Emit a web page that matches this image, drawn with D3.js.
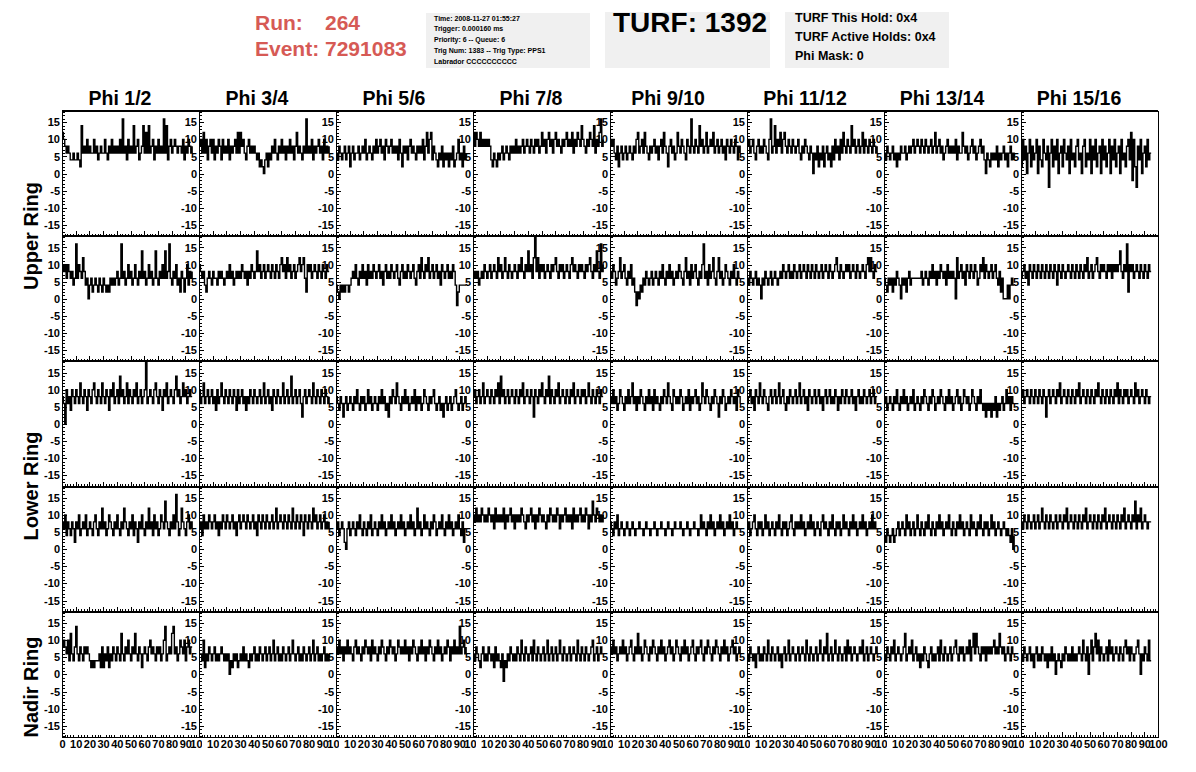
<!DOCTYPE html>
<html>
<head>
<meta charset="utf-8">
<script src="https://cdn.jsdelivr.net/npm/d3@7"></script>
<style>
  body { margin: 0; background: #fff; }
  svg { display: block; font-family: "Liberation Sans", Arial, Helvetica, sans-serif; font-weight: bold; }
  .tick line, .frame { shape-rendering: crispEdges; }
</style>
</head>
<body>
<div id="plot"></div>
<script>
// column / row labels and ticks
const phiLabels = ["Phi 1/2", "Phi 3/4", "Phi 5/6", "Phi 7/8", "Phi 9/10", "Phi 11/12", "Phi 13/14", "Phi 15/16"];
const ringLabels = ["Upper Ring", "Lower Ring", "Nadir Ring"];
const yTicks = [-15, -10, -5, 0, 5, 10, 15];
const xTicks = [0, 10, 20, 30, 40, 50, 60, 70, 80, 90, 100];
const runInfo = ["Time: 2008-11-27 01:55:27", "Trigger: 0.000160 ms", "Priority: 6 -- Queue: 6", "Trig Num: 1383 -- Trig Type: PPS1", "Labrador CCCCCCCCCC"];
const turfInfo = ["TURF This Hold: 0x4", "TURF Active Holds: 0x4", "Phi Mask: 0"];

// waveforms, one sample per ns (estimated)
const upperRingA = [
  [12,10,8,6,8,6,4,4,6,4, 4,6,4,2,14,6,8,6,10,6, 8,6,6,10,6,8,4,6,8,6, 6,10,6,4,8,6,10,6,8,6, 8,6,10,6,16,6,8,4,10,6, 8,6,14,6,8,10,4,6,8,14, 6,12,6,14,6,8,10,4,8,6, 10,6,8,6,16,6,14,4,8,10, 6,8,10,8,6,8,8,6,10,4, 8,6,10,8,6,8],
  [8,10,6,12,6,10,4,8,10,6, 10,4,8,6,10,8,4,10,6,8, 6,10,4,8,6,8,10,6,12,6, 12,8,10,6,4,8,10,6,8,6, 8,6,4,6,2,4,2,0,4,6, 2,6,4,8,6,10,6,4,8,6, 10,6,8,4,8,6,10,6,8,4, 8,12,6,8,6,4,8,6,16,6, 8,6,10,4,8,6,8,10,6,8, 4,10,6,8,6,8],
  [6,4,8,6,4,6,8,4,6,8, 2,6,8,4,6,6,8,4,6,8, 6,10,4,6,8,6,4,8,6,10, 6,8,10,6,8,4,10,8,6,8, 10,6,8,6,8,4,10,6,2,8, 6,8,4,8,10,6,8,6,4,8, 6,8,6,10,4,8,12,6,10,12, 4,8,6,4,2,6,4,8,2,6, 4,6,2,6,4,8,2,4,6,10, 4,6,2,8,4,6],
  [12,8,12,10,8,12,8,10,8,10, 8,10,8,4,2,6,4,2,6,4, 6,8,4,6,8,6,4,8,6,8, 6,10,6,8,6,8,10,6,8,10, 8,6,10,8,6,10,8,10,6,8, 12,8,10,6,10,12,8,10,6,10, 12,8,10,8,6,10,8,10,12,8, 10,8,12,6,10,8,12,10,8,14, 10,8,6,10,8,12,10,8,14,6, 10,8,12,16,8,10],
  [10,8,10,6,4,8,2,6,8,4, 6,8,4,6,8,6,4,8,6,10, 12,6,8,10,6,12,8,6,4,8, 6,8,10,6,8,4,8,10,6,12, 8,6,2,8,10,6,8,4,6,12, 8,6,10,8,6,4,10,8,6,16, 8,6,10,8,6,14,8,10,6,8, 12,6,8,10,8,12,6,8,10,6, 8,10,6,8,4,10,8,6,10,8, 6,10,8,4,8,6],
  [8,10,6,8,10,6,4,8,10,6, 8,6,10,8,6,4,10,16,6,8, 14,6,10,8,12,6,10,12,8,6, 10,8,6,10,8,6,8,10,6,4, 8,6,10,8,6,4,8,6,0,6, 4,8,2,6,4,8,2,6,8,4, 6,2,8,4,10,6,8,4,10,6, 12,8,6,10,8,6,14,8,10,6, 8,10,6,8,12,6,10,8,6,10, 8,6,10,8,6,8],
  [6,4,8,6,4,6,8,4,6,2, 6,4,8,6,6,8,4,6,8,6, 8,10,6,8,10,8,6,10,8,6, 10,8,6,8,10,6,8,12,6,8, 10,6,8,4,6,8,10,6,8,6, 8,6,10,4,8,6,6,12,8,6, 8,4,6,8,10,6,8,4,6,8, 10,6,8,4,0,6,4,2,6,4, 6,4,8,2,6,4,6,8,4,6, 2,6,8,4,6,4],
  [2,10,4,8,0,6,10,2,8,4, 6,10,0,8,4,2,10,6,4,8, -4,6,10,2,8,4,10,0,6,8, 2,10,6,4,8,0,10,4,6,2, 8,10,4,6,0,8,10,2,6,4, 10,0,8,4,10,2,6,8,0,10, 4,8,2,6,10,0,8,4,10,2, 6,8,0,10,4,6,2,8,10,4, 12,-2,10,2,-4,8,4,10,0,6, 8,2,10,4,6,6]
];
const upperRingB = [
  [10,8,10,6,10,8,6,8,4,6, 16,6,10,8,6,12,8,4,6,0, 4,6,2,4,6,4,2,6,4,2, 6,4,2,4,2,6,4,6,4,6, 8,4,6,16,6,8,4,6,10,6, 8,4,6,10,6,4,8,6,14,6, 8,4,6,10,6,8,4,6,14,6, 4,8,6,10,6,14,6,8,16,6, 4,8,6,10,4,6,2,8,6,2, 6,10,4,8,6,8],
  [10,8,6,8,4,2,6,8,6,4, 8,6,6,4,8,6,8,6,4,6, 8,6,10,6,8,4,6,8,6,8, 6,10,8,6,8,4,8,6,10,8, 6,8,14,8,10,6,8,10,6,8, 10,8,6,10,8,6,10,8,6,10, 12,8,10,6,12,8,10,6,8,10, 6,8,10,12,8,10,12,6,2,10, 8,10,6,8,10,8,6,10,8,6, 10,8,6,10,8,8],
  [4,2,0,4,2,4,2,4,4,2, 4,6,8,6,10,6,4,8,6,10, 6,8,4,10,6,8,6,10,8,6, 8,10,6,8,4,8,10,6,8,6, 10,8,6,8,10,6,4,8,10,6, 8,6,10,8,6,8,10,6,4,8, 10,6,12,8,6,10,8,12,6,8, 10,6,8,10,6,8,4,10,8,6, 8,10,6,8,6,10,8,4,-2,2, 4,4,4,4,4,4],
  [6,8,6,8,4,6,8,6,10,8, 6,8,10,6,8,10,8,6,12,8, 10,6,8,12,8,6,10,8,6,8, 10,8,6,10,8,12,8,6,10,8, 14,8,10,6,12,18,8,12,6,10, 8,10,6,8,10,8,6,10,8,10, 12,8,6,10,8,10,6,8,10,8, 6,10,12,8,10,8,6,10,8,10, 8,6,10,8,10,12,8,6,10,8, 14,8,6,16,8,10],
  [8,6,10,8,4,6,8,12,6,8, 10,6,4,8,6,10,4,6,2,-2, 2,0,4,2,6,4,8,6,4,6, 8,4,6,8,6,4,8,6,10,6, 4,8,6,10,6,8,4,6,8,6, 10,8,6,4,8,12,6,8,4,10, 6,8,10,6,4,8,6,10,16,6, 8,4,10,6,8,12,6,4,8,12, 6,8,4,6,10,8,6,4,8,6, 10,6,4,8,6,6],
  [6,4,8,6,4,6,8,4,6,4, 0,6,4,8,6,4,6,8,4,6, 8,6,4,6,8,6,10,8,6,8, 10,6,8,6,10,8,6,8,10,6, 8,10,8,6,10,8,6,10,8,6, 10,8,6,8,10,6,8,10,8,6, 10,8,6,8,10,12,8,6,10,8, 6,8,10,8,10,6,8,10,8,6, 10,8,6,8,10,8,6,10,12,8, 12,8,6,10,8,8],
  [6,4,2,6,4,6,2,6,4,8, 6,4,0,6,4,6,2,6,8,4, 6,6,6,6,6,6,6,8,4,6, 8,6,4,8,6,10,6,8,4,8, 6,10,8,6,8,4,10,6,8,6, 8,6,0,12,6,8,10,6,8,4, 10,8,6,10,8,6,10,8,4,6, 10,8,12,6,10,8,6,8,10,6, 8,10,6,4,8,2,6,0,0,0, 4,0,4,6,4,4],
  [6,8,10,6,8,4,10,8,6,10, 8,6,10,8,6,10,8,6,10,8, 6,10,8,6,10,8,4,10,8,6, 10,8,6,8,10,8,6,10,8,6, 10,8,6,10,8,6,10,8,12,6, 8,10,6,8,10,12,8,6,10,8, 10,8,6,10,8,10,6,10,8,10, 8,10,14,8,6,10,8,16,2,10, 8,10,6,8,10,8,6,10,8,6, 10,8,6,10,8,8]
];
const lowerRingA = [
  [8,6,0,10,6,8,4,10,8,6, 10,8,6,12,8,6,10,8,4,10, 8,6,10,12,8,6,10,8,6,12, 8,6,10,8,4,10,8,12,6,8, 10,6,14,8,10,6,8,12,6,10, 8,6,10,8,12,6,8,10,6,8, 10,18,6,8,10,8,6,10,12,8, 6,10,8,4,10,8,12,6,8,10, 8,6,10,14,8,10,6,8,12,8, 10,6,8,10,8,8],
  [10,6,8,12,6,8,10,6,8,10, 6,8,4,10,6,8,12,8,6,10, 8,6,10,8,6,10,8,4,10,6, 8,10,6,8,4,8,6,10,8,6, 10,8,6,8,10,6,8,12,6,8, 10,6,8,4,10,8,6,10,8,6, 8,12,6,8,10,6,8,14,6,8, 10,6,8,10,6,2,8,10,6,8, 10,8,6,12,8,6,10,8,6,10, 8,6,10,8,6,8],
  [8,6,4,8,6,2,6,8,4,6, 8,6,4,8,6,10,6,4,8,6, 8,4,6,10,6,8,4,6,8,6, 4,8,6,10,6,8,4,6,2,8, 6,10,8,6,12,8,6,4,8,6, 10,6,8,4,6,8,6,10,4,8, 6,8,4,6,10,8,6,4,8,6, 8,10,6,4,6,8,4,6,2,6, 8,4,6,8,4,6,8,10,6,4, 6,8,4,6,8,6],
  [8,10,6,8,10,6,8,12,6,8, 10,8,6,10,8,6,10,8,12,6, 14,8,10,6,8,10,6,8,10,8, 6,10,8,6,10,8,12,6,8,10, 8,6,10,8,2,10,8,6,10,8, 12,8,6,10,8,14,6,10,8,6, 10,8,12,6,8,10,8,6,10,8, 6,10,8,12,6,8,10,8,6,10, 8,10,6,8,12,8,6,10,8,6, 10,8,6,10,8,8],
  [8,6,10,6,8,4,6,10,8,6, 4,8,6,10,6,8,12,6,8,4, 8,6,10,8,6,4,8,6,10,6, 8,4,10,6,8,6,4,8,6,10, 8,6,12,8,6,4,10,8,6,8, 6,10,8,4,6,8,6,10,4,8, 6,8,10,6,8,4,6,12,8,6, 10,8,6,4,8,6,10,8,6,2, 8,6,10,8,4,6,8,6,10,8, 6,8,4,10,8,6],
  [6,8,10,6,8,4,10,8,6,12, 8,6,10,8,6,4,8,10,6,8, 10,6,8,12,6,8,10,6,4,8, 6,10,8,6,8,10,6,8,12,6, 8,10,6,8,4,10,8,6,8,10, 6,8,10,6,8,4,8,10,6,8, 10,6,8,6,10,8,4,8,6,10, 8,6,10,8,6,8,10,6,8,4, 8,10,6,8,6,10,8,6,8,10, 6,8,10,6,8,8],
  [6,8,4,6,8,6,4,8,6,10, 6,4,8,6,10,6,8,4,6,8, 6,10,4,6,8,6,4,8,6,10, 8,6,4,8,6,10,8,4,6,8, 6,10,8,6,4,8,6,10,6,8, 4,6,8,10,6,8,4,6,10,8, 6,8,4,6,10,8,6,4,8,6, 10,6,4,6,2,6,4,6,2,6, 4,8,2,6,4,6,8,4,6,10, 6,8,4,8,6,6],
  [8,10,6,8,10,8,6,10,8,6, 10,8,6,10,8,6,10,8,2,8, 10,6,8,10,8,6,10,8,12,6, 8,10,8,6,10,8,6,10,8,6, 10,8,12,6,8,10,8,6,10,8, 6,10,8,6,10,8,12,8,6,10, 8,6,10,8,6,10,8,6,10,8, 12,6,10,8,6,10,8,10,6,8, 10,8,6,12,8,10,6,8,10,8, 6,10,8,6,8,8]
];
const lowerRingB = [
  [8,6,10,4,8,6,4,8,6,2, 8,6,10,4,6,8,6,10,4,6, 8,6,4,8,10,6,4,8,6,12, 6,8,4,6,10,8,6,4,8,6, 10,6,4,8,6,12,8,6,4,8, 6,10,4,8,6,2,8,6,10,6, 4,8,6,12,6,8,4,10,6,8, 4,6,10,8,6,14,8,6,4,8, 6,10,6,16,8,4,6,12,8,6, 4,8,10,6,8,6],
  [6,8,4,10,6,8,6,10,8,6, 8,10,6,8,4,8,6,10,8,6, 10,8,6,8,10,6,8,4,8,10, 6,8,10,8,6,10,8,6,8,10, 6,8,4,10,8,6,10,8,6,10, 8,6,8,10,6,8,12,6,8,10, 8,6,10,8,6,10,8,6,12,8, 6,10,8,6,10,8,4,10,8,6, 10,8,6,12,8,10,6,8,10,6, 8,10,6,8,6,8],
  [6,8,4,6,8,6,2,0,6,8, 4,6,8,6,4,8,6,10,6,4, 8,6,4,8,6,10,4,6,8,6, 4,8,6,10,6,8,4,6,8,6, 10,6,8,4,6,8,6,10,6,8, 4,6,8,6,10,6,8,4,6,12, 6,8,4,6,10,6,8,6,4,8, 6,10,8,4,6,8,6,10,6,4, 8,6,10,6,8,4,6,8,6,10, 6,4,8,2,6,6],
  [10,8,12,8,10,8,12,10,8,10, 8,12,10,8,10,6,12,8,10,8, 10,8,12,6,10,8,10,12,8,10, 6,10,8,10,8,12,10,8,6,10, 8,10,12,8,10,6,10,8,12,10, 8,10,8,6,10,8,12,10,8,10, 8,12,10,6,10,8,10,12,8,10, 8,10,6,12,8,10,8,10,12,8, 10,8,12,10,6,10,8,14,10,8, 12,10,8,10,8,10],
  [8,6,4,8,6,10,4,6,8,6, 4,6,8,6,4,6,8,6,4,6, 6,8,6,6,4,6,8,6,6,4, 6,6,8,6,4,6,6,8,6,6, 4,6,8,6,6,4,6,8,6,6, 6,8,6,4,6,6,8,6,4,6, 6,8,6,6,4,6,10,6,8,6, 4,8,6,10,6,8,4,6,8,6, 10,6,8,4,6,8,6,10,6,8, 4,6,8,6,6,6],
  [6,8,4,6,8,10,6,4,8,6, 8,4,6,10,6,8,4,6,8,6, 4,8,6,10,6,4,8,6,8,4, 6,8,10,6,4,8,6,8,6,10, 6,8,4,6,8,6,10,6,8,4, 6,8,6,4,8,10,6,8,6,4, 8,6,10,6,4,8,6,8,4,6, 10,6,8,6,4,8,6,10,6,8, 4,6,8,6,10,6,8,4,6,8, 6,10,6,8,6,6],
  [4,2,6,4,2,4,6,2,4,6, 8,4,6,8,6,4,10,6,8,4, 6,8,4,6,10,6,4,8,6,4, 8,6,10,6,4,8,6,4,8,6, 10,6,8,4,6,8,6,10,6,4, 8,6,4,8,6,10,6,8,4,6, 8,6,4,10,6,8,6,4,8,6, 10,6,4,8,6,8,4,6,10,6, 8,4,6,8,6,4,6,8,6,4, 6,4,2,6,0,4],
  [8,6,10,8,6,10,8,6,8,10, 6,8,10,6,8,12,8,6,10,8, 6,10,8,6,8,10,6,8,10,8, 6,10,8,12,6,8,10,8,6,10, 8,6,10,8,6,10,8,12,6,8, 10,8,6,10,8,6,10,8,6,10, 8,12,6,8,10,8,6,10,8,6, 10,8,6,10,8,12,6,8,10,8, 6,10,8,14,6,10,8,12,6,8, 10,8,6,8,8,8]
];
const nadirRing = [
  [8,10,8,6,10,4,12,6,4,8, 14,6,4,8,6,4,8,6,8,6, 4,2,4,2,4,4,4,6,2,8, 2,6,4,8,2,6,4,8,6,4, 8,6,4,12,6,4,8,6,10,6, 4,8,6,12,6,4,8,6,2,6, 8,6,4,8,10,6,8,6,4,8, 6,8,4,6,10,14,4,6,8,6, 12,14,6,8,4,6,10,8,6,10, 4,8,10,6,8,8],
  [6,6,4,10,2,6,4,8,6,4, 6,8,4,6,4,6,8,6,4,6, 4,6,0,4,2,6,4,6,2,4, 6,4,8,4,6,4,2,6,4,6, 8,4,6,4,8,6,4,6,8,4, 6,8,4,6,10,4,6,8,4,6, 4,8,6,4,6,8,4,6,10,6, 4,6,8,4,6,4,8,6,4,6, 8,4,6,10,4,6,8,4,6,4, 6,8,4,6,4,6],
  [8,6,10,6,8,4,8,6,10,6, 8,6,4,8,10,6,8,6,4,8, 6,10,8,6,8,4,10,6,8,6, 4,8,6,10,8,6,4,8,6,10, 8,6,8,4,6,10,8,6,8,6, 10,6,8,4,8,6,10,8,6,4, 8,6,10,6,8,4,8,6,10,8, 6,4,8,6,10,6,8,4,6,8, 6,10,8,4,8,6,10,6,8,6, 14,6,8,10,6,8],
  [6,4,8,6,4,2,6,8,4,6, 4,8,6,4,6,2,8,4,6,4, 2,6,-2,4,2,6,4,8,6,4, 6,4,8,6,4,10,6,4,8,6, 4,6,8,4,10,6,4,8,6,4, 6,8,4,6,10,4,6,8,4,6, 8,4,6,10,6,4,8,6,4,6, 8,4,6,8,6,4,10,6,4,8, 6,4,8,6,4,6,8,10,4,6, 8,4,6,8,6,6],
  [8,6,10,6,8,4,6,8,6,10, 6,8,4,6,8,10,6,4,8,6, 12,6,8,4,6,10,8,6,4,8, 6,10,8,6,4,8,6,10,6,8, 4,6,8,10,6,8,4,6,10,8, 6,4,8,6,10,6,8,4,6,8, 10,6,4,8,6,8,10,6,4,8, 6,10,8,6,4,8,6,10,8,6, 4,8,6,10,6,8,4,6,8,10, 6,8,4,6,8,6],
  [6,4,8,6,4,6,2,6,8,4, 6,4,8,6,4,10,6,4,8,6, 4,6,8,4,6,2,6,8,4,6, 10,4,6,8,6,4,6,8,4,6, 8,6,4,10,6,4,8,6,4,6, 8,4,6,10,6,4,8,6,12,4, 6,8,4,6,10,6,4,8,6,4, 6,8,4,10,6,8,4,6,8,6, 4,6,8,6,10,4,6,8,4,6, 8,6,4,6,8,6],
  [6,4,8,6,4,8,6,10,4,6, 8,6,4,6,8,12,4,6,8,6, 10,4,6,8,4,6,2,6,4,8, 6,4,2,6,8,4,6,4,6,8, 4,10,6,4,8,6,4,6,8,4, 6,8,10,6,4,8,6,8,4,6, 8,6,10,4,8,12,6,12,8,6, 4,8,6,8,4,8,6,8,6,8, 10,6,8,6,12,8,6,8,4,6, 8,6,4,8,6,6],
  [6,4,8,6,4,6,8,4,6,2, 6,8,4,6,4,8,6,4,6,2, 6,4,8,4,6,0,4,6,4,2, 6,4,8,6,4,6,4,8,4,6, 4,6,8,6,4,10,6,4,8,0, 6,10,4,8,12,6,10,4,8,6, 4,6,8,4,10,6,8,4,6,8, 6,4,8,6,4,8,10,6,8,4, 8,6,4,6,8,10,6,0,6,4, 8,6,4,10,4,4]
];

const rows = [upperRingA, upperRingB, lowerRingA, lowerRingB, nadirRing];

const width = 1196, height = 772;
const gridLeft = 62, colW = 137, gridTop = 111, rowH = 125.2;

const svg = d3.select("#plot")
  .append("svg")
  .attr("width", width)
  .attr("height", height);

// header
const red = "#d65a55";
svg.append("text").attr("x", 255).attr("y", 30).attr("fill", red).attr("font-size", 21).text("Run:");
svg.append("text").attr("x", 325).attr("y", 30).attr("fill", red).attr("font-size", 21).text("264");
svg.append("text").attr("x", 255).attr("y", 56).attr("fill", red).attr("font-size", 21).text("Event: 7291083");

svg.append("rect").attr("x", 426).attr("y", 13).attr("width", 164).attr("height", 55).attr("fill", "#f0f0f0");
svg.selectAll(".runinfo").data(runInfo).enter().append("text")
  .attr("x", 434).attr("y", (d, i) => 20.5 + i * 10.8)
  .attr("font-size", 7).text(d => d);

svg.append("rect").attr("x", 605).attr("y", 12).attr("width", 165).attr("height", 56).attr("fill", "#f0f0f0");
svg.append("text").attr("x", 613).attr("y", 32).attr("font-size", 28).text("TURF: 1392");

svg.append("rect").attr("x", 785).attr("y", 12).attr("width", 164).attr("height", 56).attr("fill", "#f0f0f0");
svg.selectAll(".turfinfo").data(turfInfo).enter().append("text")
  .attr("x", 795).attr("y", (d, i) => 22 + i * 19)
  .attr("font-size", 12.5).text(d => d);

// column titles
svg.selectAll(".phi").data(phiLabels).enter().append("text")
  .attr("x", (d, i) => gridLeft + i * colW + 58)
  .attr("y", 105)
  .attr("text-anchor", "middle")
  .attr("font-size", 19.5)
  .text(d => d);

// ring labels
const ringY = [236, 486, 687];
ringLabels.forEach((t, i) => {
  svg.append("text")
    .attr("transform", `translate(37.5,${ringY[i]}) rotate(-90)`)
    .attr("text-anchor", "middle")
    .attr("font-size", 20)
    .text(t);
});

// samples drawn as steps, like the dense trace of the original
const line = d3.line().curve(d3.curveStepAfter);
const plain = d => String(d);

rows.forEach((row, r) => {
  const top = gridTop + r * rowH;
  const bottom = top + rowH;
  row.forEach((wave, c) => {
    const left = gridLeft + c * colW;
    const x = d3.scaleLinear().domain([0, 100]).range([left, left + colW]);
    const y = d3.scaleLinear().domain([-18.3, 18.3]).range([bottom, top]);
    const g = svg.append("g");
    const id = `clip-${r}-${c}`;
    svg.append("clipPath").attr("id", id).append("rect")
      .attr("x", left).attr("y", top).attr("width", colW).attr("height", rowH);

    g.append("path")
      .attr("clip-path", `url(#${id})`)
      .attr("fill", "none")
      .attr("stroke", "#000")
      .attr("stroke-width", 1.4)
      .attr("d", line(wave.map((v, i) => [x(i), y(v)])));

    // frame
    g.append("rect")
      .attr("class", "frame")
      .attr("x", left).attr("y", top).attr("width", colW).attr("height", rowH)
      .attr("fill", "none").attr("stroke", "#000").attr("stroke-width", 1);
    g.append("line")
      .attr("class", "frame")
      .attr("x1", left).attr("x2", left + colW).attr("y1", top).attr("y2", top)
      .attr("stroke", "#000").attr("stroke-width", 2);

    // y axis
    g.append("g").attr("transform", `translate(${left},0)`)
      .call(d3.axisLeft(y).tickValues(d3.range(-18, 19).filter(v => v % 5 !== 0)).tickSize(-2.5).tickFormat(""))
      .call(a => a.select(".domain").remove());
    g.append("g").attr("transform", `translate(${left},0)`)
      .call(d3.axisLeft(y).tickValues(yTicks).tickSize(-5).tickPadding(2).tickFormat(plain))
      .call(a => a.select(".domain").remove())
      .call(a => a.selectAll("text").attr("font-size", 11).attr("font-family", null));

    // x axis
    g.append("g").attr("transform", `translate(0,${bottom})`)
      .call(d3.axisBottom(x).tickValues(d3.range(0, 101, 2).filter(v => v % 10 !== 0)).tickSize(-2.5).tickFormat(""))
      .call(a => a.select(".domain").remove());
    const holder = g.append("g");
    if (r === rows.length - 1 && c < row.length - 1) {
      const xid = `xclip-${c}`;
      svg.append("clipPath").attr("id", xid).append("rect")
        .attr("x", left - 12).attr("y", bottom).attr("width", colW + 15).attr("height", 30);
      holder.attr("clip-path", `url(#${xid})`);
    }
    const xa = holder.append("g").attr("transform", `translate(0,${bottom})`)
      .call(d3.axisBottom(x).tickValues(xTicks).tickSize(-5).tickPadding(3).tickFormat(plain))
      .call(a => a.select(".domain").remove())
      .call(a => a.selectAll("text").attr("font-size", 11).attr("font-family", null));
    if (r < rows.length - 1) {
      xa.selectAll("text").remove();
    } else if (c > 0) {
      xa.selectAll("text").filter(d => d === 0).remove();
    }
  });
});
</script>
</body>
</html>
